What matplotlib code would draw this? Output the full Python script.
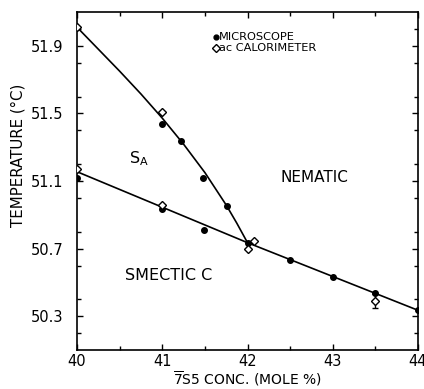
import matplotlib
matplotlib.use("Agg")
import matplotlib.pyplot as plt
from matplotlib.ticker import MultipleLocator

# Microscope data (filled circles)
micro_x = [40.0, 41.0, 41.0, 41.22, 41.48, 41.49, 41.76, 42.0, 42.5, 43.0, 43.5, 44.0]
micro_y = [51.12, 51.44, 50.935, 51.335, 51.12, 50.81, 50.95, 50.735, 50.635, 50.53, 50.435, 50.335]

# ac calorimeter data (open diamonds)
cal_x = [40.0, 40.0, 41.0, 41.0, 42.0, 42.08, 43.5]
cal_y = [52.01, 51.17, 51.51, 50.96, 50.70, 50.745, 50.39]
cal_err = [0, 0, 0, 0, 0, 0, 0.04]

# Phase boundaries
na_x = [40.0, 40.5, 40.75, 41.0, 41.25, 41.5, 41.75, 41.875, 42.0]
na_y = [52.01, 51.75, 51.615, 51.472, 51.318, 51.15, 50.958, 50.85, 50.735]
ca_x = [40.0, 42.0, 44.0]
ca_y = [51.155, 50.735, 50.335]

xticks = [40, 41, 42, 43, 44]
yticks = [50.3, 50.7, 51.1, 51.5, 51.9]

plt.rcParams['font.family'] = ['DejaVu Sans']
fig = plt.figure(figsize=(4.24, 3.89), dpi=100)
ax = fig.add_axes([77/424, 1-350/389, (418-77)/424, (350-12)/389])

ax.plot(na_x, na_y, color='black', lw=1.2, zorder=2)
ax.plot(ca_x, ca_y, color='black', lw=1.2, zorder=2)
ax.plot(micro_x, micro_y, 'o', color='black', ms=4, zorder=3)
ax.errorbar(cal_x, cal_y, yerr=cal_err, fmt='D', mfc='white', mec='black',
            mew=1.0, ms=4.5, ecolor='black', elinewidth=1.0, capsize=2, zorder=4)

ax.set_xlim(40, 44)
ax.set_ylim(50.1, 52.1)
ax.set_xticks(xticks)
ax.set_xticklabels([str(v) for v in xticks])
ax.set_yticks(yticks)
ax.set_yticklabels([f"{v:.1f}" for v in yticks])
ax.xaxis.set_minor_locator(MultipleLocator(0.5))
ax.yaxis.set_minor_locator(MultipleLocator(0.2))
ax.tick_params(which='both', direction='in', top=True, right=True, width=1.0, labelsize=10.5)
ax.tick_params(which='major', length=4)
ax.tick_params(which='minor', length=3)
ax.tick_params(axis='y', which='major', pad=10)
ax.tick_params(axis='x', which='major', pad=3)
for s in ax.spines.values():
    s.set_linewidth(1.2)

ax.set_xlabel(r"$\overline{7}$S5 CONC. (MOLE %)", fontsize=10)
ax.set_ylabel("TEMPERATURE (°C)", fontsize=10.8)
ax.xaxis.set_label_coords(0.5, -0.058)
ax.yaxis.set_label_coords(-0.15, 0.577)

ax.text(40.73, 51.23, r"S$_{\mathsf{A}}$", fontsize=11.5, ha='center', va='center')
ax.text(42.78, 51.12, "NEMATIC", fontsize=11, ha='center', va='center')
ax.text(41.07, 50.54, "SMECTIC C", fontsize=11.5, ha='center', va='center')

# legend
ax.plot([41.63], [51.952], 'o', color='black', ms=3.5)
ax.text(41.67, 51.952, "MICROSCOPE", fontsize=8.2, ha='left', va='center')
ax.plot([41.63], [51.888], 'D', mfc='white', mec='black', ms=4, mew=1.0)
ax.text(41.67, 51.888, "ac CALORIMETER", fontsize=8.2, ha='left', va='center')

fig.savefig("out.png", dpi=100)
